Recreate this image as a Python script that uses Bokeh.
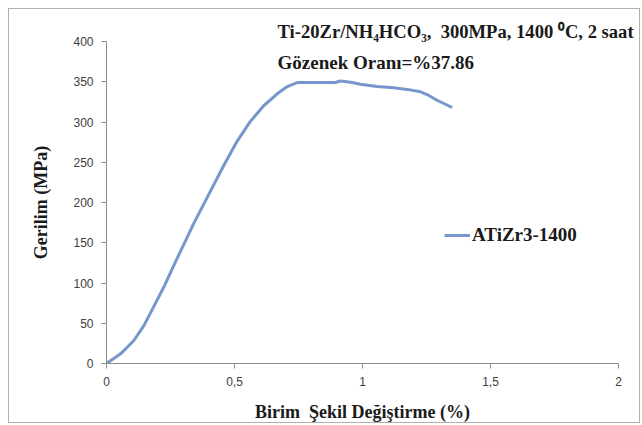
from bokeh.plotting import figure
from bokeh.models import Range1d, Label, FixedTicker, Legend, LegendItem, Title
from bokeh.embed import file_html
from bokeh.resources import INLINE

strain = [0, 0.055, 0.107, 0.146, 0.185, 0.224, 0.263, 0.302, 0.341, 0.393, 0.458, 0.510,
          0.5625, 0.615, 0.667, 0.706, 0.745, 0.81, 0.894, 0.914, 0.96, 0.992, 1.057, 1.122,
          1.174, 1.227, 1.259, 1.291, 1.318, 1.35]
stress = [0, 12, 28.6, 47, 71, 95, 122, 148, 174, 206, 246, 276,
          301, 320.5, 335, 344, 349, 349, 349, 351, 349, 347, 344, 342.5,
          340.5, 337.5, 333, 327, 323, 318]
x_ticks = [0, 0.5, 1, 1.5, 2]
x_tick_labels = ["0", "0,5", "1", "1,5", "2"]
y_ticks = [0, 50, 100, 150, 200, 250, 300, 350, 400]
series_name = "ATiZr3-1400"
title_line1 = "Ti-20Zr/NH\u2084HCO\u2083,\u00a0 300MPa, 1400 \u2070C, 2 saat"
title_line2 = "Gözenek Oranı=%37.86"
x_label = "Birim\u00a0 Şekil Değiştirme (%)"
y_label = "Gerilim (MPa)"

SERIF = "Liberation Serif"
SANS = "Liberation Sans"

p = figure(width=632, height=415, output_backend="svg", toolbar_location=None,
           x_range=Range1d(0, 2), y_range=Range1d(0, 400),
           min_border_left=97, min_border_right=23, min_border_top=32, min_border_bottom=61,
           margin=(8, 0, 0, 8),
           styles={"border": "1px solid #b0b0b0"})
p.outline_line_color = None
p.grid.grid_line_color = None
p.background_fill_color = "white"
p.border_fill_color = "white"

line = p.line(strain, stress, line_color="#7796cc", line_width=3)

for ax in (p.xaxis[0], p.yaxis[0]):
    ax.axis_line_color = "#8c8c8c"
    ax.major_tick_line_color = "#8c8c8c"
    ax.minor_tick_line_color = None
    ax.major_tick_out = 5
    ax.major_tick_in = 0
    ax.major_label_text_font = SANS
    ax.major_label_text_font_size = "12px"
    ax.major_label_text_color = "#404040"
    ax.axis_label_text_font = SERIF
    ax.axis_label_text_font_style = "bold"
    ax.axis_label_text_font_size = "18px"
    ax.axis_label_text_color = "#1a1a1a"

p.xaxis.ticker = FixedTicker(ticks=x_ticks)
p.xaxis.major_label_overrides = dict(zip(x_ticks, x_tick_labels))
p.yaxis.ticker = FixedTicker(ticks=y_ticks)
p.xaxis.axis_label = x_label
p.yaxis.axis_label = y_label
p.yaxis.axis_label_standoff = 19
p.xaxis.axis_label_standoff = 13
p.xaxis.major_label_standoff = 8
p.yaxis.major_label_standoff = 8

p.add_layout(Title(text=title_line1, align="left", offset=171, text_font=SERIF,
                   text_font_style="bold", text_font_size="18.6px", text_color="#1a1a1a",
                   standoff=0), "above")
p.add_layout(Label(x=0.668, y=374, text=title_line2, text_font=SERIF, text_font_style="bold",
                   text_font_size="19px", text_color="#1a1a1a", text_baseline="middle"))

legend = Legend(items=[LegendItem(label=series_name, renderers=[line])],
                location=(338, 117), glyph_width=26, label_text_font=SERIF,
                label_text_font_style="bold", label_text_font_size="19px",
                label_text_color="#1a1a1a", background_fill_alpha=0,
                border_line_alpha=0, padding=0, margin=0, label_standoff=2)
p.add_layout(legend)

open("out.html", "w").write(file_html(p, INLINE))
